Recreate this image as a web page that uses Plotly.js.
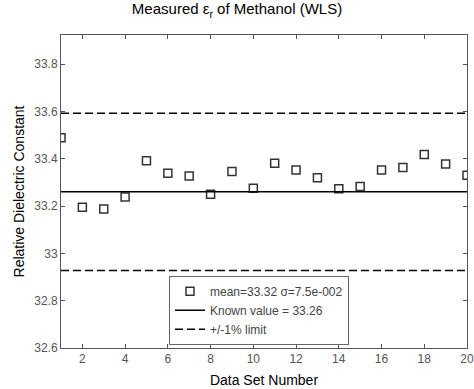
<!DOCTYPE html>
<html>
<head>
<meta charset="utf-8">
<script src="https://cdn.plot.ly/plotly-3.0.1.min.js"></script>
<style>html,body{margin:0;padding:0;background:#fff;}#chart{width:474px;height:389px;}</style>
</head>
<body>
<div id="chart"></div>
<script>
var dataSet = [1,2,3,4,5,6,7,8,9,10,11,12,13,14,15,16,17,18,19,20];
var measured = [33.489,33.195,33.188,33.238,33.391,33.339,33.327,33.250,33.346,33.275,
                33.381,33.352,33.320,33.273,33.283,33.352,33.363,33.418,33.378,33.330];
var knownValue = 33.26;
var limitFraction = 0.01;
var xTicks = [2,4,6,8,10,12,14,16,18,20];
var yTicks = [32.6,32.8,33,33.2,33.4,33.6,33.8];
var yTickLabels = ['32.6','32.8','33','33.2','33.4','33.6','33.8'];

var xMin = dataSet[0], xMax = dataSet[dataSet.length-1];
var upper = knownValue*(1+limitFraction), lower = knownValue*(1-limitFraction);

var font = 'Liberation Sans, Arial, sans-serif';
var traces = [
  {x: dataSet, y: measured, mode: 'markers', type: 'scatter',
   name: 'mean=33.32 \u03c3=7.5e-002',
   marker: {symbol: 'square-open', size: 8, color: '#333', line: {width: 1.5, color: '#333'}}},
  {x: [xMin, xMax], y: [knownValue, knownValue], mode: 'lines', type: 'scatter',
   name: 'Known value = 33.26', line: {color: '#000', width: 1.5}},
  {x: [xMin, xMax, null, xMin, xMax], y: [upper, upper, null, lower, lower], mode: 'lines', type: 'scatter',
   name: '+/-1% limit', connectgaps: false, line: {color: '#000', width: 1.5, dash: '8px,4px'}}
];

var axisCommon = {
  showgrid: false, zeroline: false, showline: true, linecolor: '#555', linewidth: 1,
  mirror: 'ticks', ticks: 'inside', ticklen: 4, tickcolor: '#555',
  tickfont: {family: font, size: 12, color: '#555'}
};

var layout = {
  width: 474, height: 389,
  margin: {l: 61, r: 7, t: 35, b: 41},
  paper_bgcolor: '#fff', plot_bgcolor: '#fff',
  title: {text: 'Measured \u03b5<sub>r</sub> of Methanol (WLS)', x: 0.5, xanchor: 'center', y: 0.99, yanchor: 'top',
          font: {family: font, size: 15, color: '#000'}},
  xaxis: Object.assign({}, axisCommon, {range: [xMin, xMax], tickvals: xTicks,
          title: {text: 'Data Set Number', font: {family: font, size: 14, color: '#000'}, standoff: 9}}),
  yaxis: Object.assign({}, axisCommon, {range: [32.6, 33.923], tickvals: yTicks, ticktext: yTickLabels,
          title: {text: 'Relative Dielectric Constant', font: {family: font, size: 14, color: '#000'}, standoff: 6}}),
  showlegend: true,
  legend: {x: 0.266, y: 0.01, xanchor: 'left', yanchor: 'bottom', bgcolor: '#fff', bordercolor: '#666', borderwidth: 1,
           font: {family: font, size: 12, color: '#444'}, tracegroupgap: 0, itemwidth: 30}
};

Plotly.newPlot('chart', traces, layout, {displayModeBar: false, staticPlot: true});
</script>
</body>
</html>
